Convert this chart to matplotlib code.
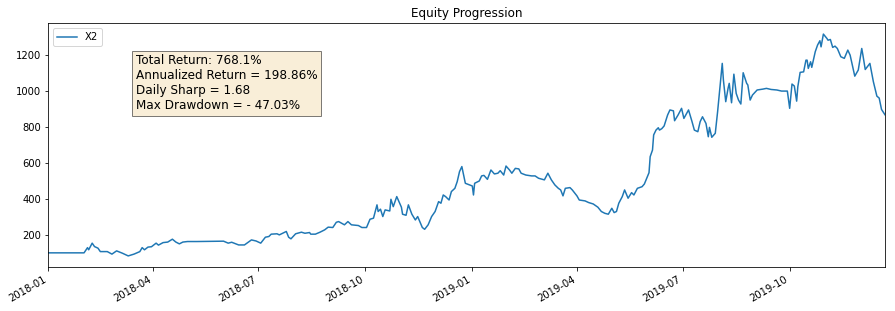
import numpy as np
import pandas as pd
import matplotlib
matplotlib.use("Agg")
from matplotlib import pyplot as plt

# days after 2018-01-01
day_offset = [0, 31, 34, 35, 38, 40, 43, 45, 51, 55, 59, 64, 69, 74, 79, 81, 83, 86, 89, 93,
              95, 99, 103, 107, 110, 113, 116, 120, 128, 151, 155, 158, 164, 169, 175, 179, 183, 187, 190, 192,
              197, 199, 205, 207, 209, 213, 218, 221, 225, 226, 230, 234, 238, 241, 245, 248, 250, 255, 258, 261,
              267, 270, 274, 277, 280, 283, 284, 286, 288, 290, 294, 295, 297, 300, 304, 305, 308, 310, 313, 316,
              318, 322, 324, 327, 330, 333, 336, 338, 340, 342, 345, 347, 350, 352, 354, 356, 359, 365, 366, 367,
              371, 373, 375, 378, 381, 384, 387, 389, 392, 394, 397, 399, 402, 405, 407, 411, 416, 419, 422, 427,
              430, 433, 436, 439, 441, 443, 445, 449, 451, 455, 457, 462, 465, 469, 473, 476, 479, 482, 485, 487,
              489, 491, 494, 496, 499, 502, 504, 507, 511, 513, 517, 518, 520, 521, 523, 525, 526, 528, 530, 533,
              535, 538, 539, 542, 545, 547, 551, 554, 556, 559, 561, 563, 566, 568, 569, 571, 574, 576, 580, 581,
              583, 585, 586, 588, 590, 592, 594, 596, 598, 601, 602, 604, 606, 610, 615, 618, 622, 627, 631, 636,
              638, 640, 642, 644, 645, 647, 650, 652, 653, 654, 656, 657, 660, 662, 664, 665, 667, 670, 671, 673,
              675, 677, 679, 682, 685, 688, 690, 694, 697, 700, 701, 703, 707, 710, 713, 715, 717, 720]

equity = [100, 100, 129, 117, 154, 135, 126, 107, 107, 93, 111, 98, 83, 93, 107, 129, 117, 132, 134, 154,
          143, 157, 160, 176, 160, 150, 160, 163, 163, 165, 154, 159, 144, 144, 172, 166, 154, 187, 191, 204,
          206, 200, 219, 187, 178, 206, 215, 209, 213, 204, 204, 215, 228, 243, 241, 270, 274, 256, 274, 256,
          252, 241, 241, 287, 293, 367, 330, 343, 302, 339, 333, 398, 357, 413, 354, 315, 309, 367, 315, 283,
          302, 241, 231, 256, 302, 330, 385, 376, 422, 413, 394, 441, 459, 496, 552, 580, 487, 472, 422, 487,
          500, 528, 531, 509, 561, 539, 543, 557, 533, 583, 561, 543, 570, 567, 543, 533, 528, 528, 515, 506,
          543, 506, 478, 459, 450, 417, 459, 463, 450, 417, 394, 389, 380, 372, 354, 330, 320, 315, 348, 324,
          330, 376, 413, 450, 404, 435, 422, 459, 468, 483, 546, 635, 672, 756, 783, 796, 783, 791, 806, 867,
          895, 890, 835, 867, 904, 848, 895, 830, 783, 774, 830, 857, 820, 746, 798, 743, 765, 885, 1154, 1061,
          941, 1015, 1043, 935, 1094, 987, 950, 928, 1102, 1043, 1034, 950, 978, 1006, 1011, 1015, 1009, 1006, 1000, 1000,
          904, 1039, 1028, 944, 1024, 1104, 1107, 1172, 1172, 1126, 1163, 1132, 1219, 1256, 1280, 1246, 1317, 1293, 1283, 1287,
          1243, 1250, 1237, 1191, 1182, 1228, 1200, 1083, 1117, 1237, 1200, 1120, 1154, 1052, 972, 961, 898, 868.1]

stats_text = ("Total Return: 768.1%\n"
              "Annualized Return = 198.86%\n"
              "Daily Sharp = 1.68\n"
              "Max Drawdown = - 47.03%")

dates = pd.Timestamp("2018-01-01") + pd.to_timedelta(day_offset, unit="D")

fig = plt.figure(figsize=(895 / 72, 311 / 72), dpi=72)
ax = fig.add_axes([48 / 895, 44 / 311, 837 / 895, 244 / 311])
ax.plot(dates, np.array(equity), color="tab:blue", linewidth=1.5, label="X2")
ax.set_xlim(dates[0], dates[-1])
ax.set_title("Equity Progression", fontsize=12)
ax.legend(loc="upper left", fontsize=10)

props = dict(boxstyle="square", facecolor="wheat", alpha=0.5)
ax.text(0.105, 0.872, stats_text, transform=ax.transAxes, fontsize=12,
        va="top", ha="left", bbox=props)

ax.tick_params(labelsize=10)
for lbl in ax.get_xticklabels():
    lbl.set_rotation(30)
    lbl.set_ha("right")

fig.savefig("out.png", dpi=72)
